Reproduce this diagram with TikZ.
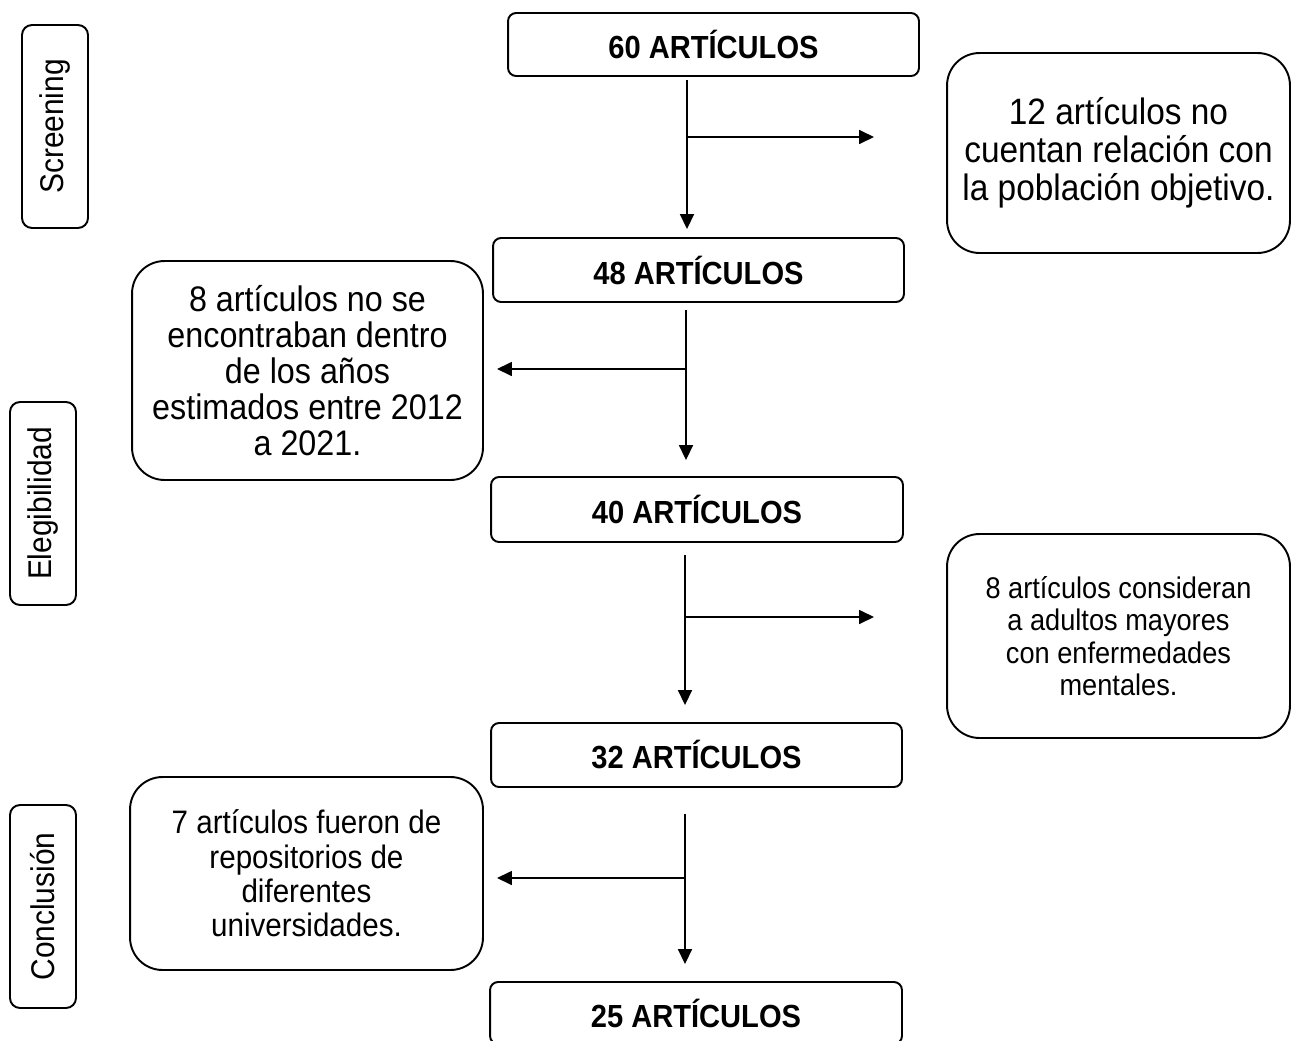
\documentclass[tikz,border=0pt]{standalone}
\usepackage{fontspec}
\setmainfont{Liberation Sans}[FakeStretch=0.91]
\usetikzlibrary{arrows.meta}

\begin{document}
\begin{tikzpicture}[x=0.02cm, y=-0.02cm,
	paso/.style={draw, line width=1.1pt, rounded corners=0.16cm, inner sep=0pt,
		minimum width=8.22cm, minimum height=1.28cm,
		font=\fontsize{18.2pt}{20pt}\selectfont\bfseries},
	nota/.style={draw, line width=1.1pt, rounded corners=0.65cm, inner sep=0pt, align=center},
	fase/.style={draw, line width=1.1pt, rounded corners=0.2cm, inner sep=0pt, rotate=90,
		minimum width=4.06cm, minimum height=1.32cm,
		font=\fontsize{18.7pt}{21pt}\selectfont},
	flujo/.style={-{Triangle[length=8.5pt,width=8pt]}, line width=0.75pt}]
		\useasboundingbox (0,0) rectangle (1292,1041);

		%fases
		\node[fase] (f1) at (55,126.5) {Screening};
		\node[fase] (f2) at (43,503.5) {Elegibilidad};
		\node[fase] (f3) at (43,906.5) {Conclusión};

		%articulos
		\node[paso, minimum height=1.26cm] (a60) at (713.5,44.5) {60 ARTÍCULOS};
		\node[paso] (a48) at (698.5,270) {48 ARTÍCULOS};
		\node[paso, minimum width=8.24cm, minimum height=1.30cm] (a40) at (697,509.5) {40 ARTÍCULOS};
		\node[paso] (a32) at (696.5,755) {32 ARTÍCULOS};
		\node[paso, minimum width=8.24cm, minimum height=1.24cm] (a25) at (696,1013) {25 ARTÍCULOS};

		%excluidos
		\node[nota, minimum width=6.86cm, minimum height=4.0cm, font=\fontsize{20.9pt}{21.6pt}\selectfont]
			(e12) at (1118.5,153) {12 artículos no\\cuentan relación con\\la población objetivo.};
		\node[nota, minimum width=7.02cm, minimum height=4.38cm, font=\fontsize{20.2pt}{20.4pt}\selectfont]
			(e8a) at (307.5,370.5) {8 artículos no se\\encontraban dentro\\de los años\\estimados entre 2012\\a 2021.};
		\node[nota, minimum width=6.86cm, minimum height=4.08cm, font=\fontsize{17pt}{18.4pt}\selectfont]
			(e8b) at (1118.5,636) {8 artículos consideran\\a adultos mayores\\con enfermedades\\mentales.};
		\node[nota, minimum width=7.06cm, minimum height=3.86cm, font=\fontsize{18.5pt}{19.5pt}\selectfont]
			(e7) at (306.5,873.5) {7 artículos fueron de\\repositorios de\\diferentes\\universidades.};

		%ramas
		\coordinate (k1) at (687,137);
		\coordinate (t1) at (874,137);
		\coordinate (k2) at (686,369);
		\coordinate (t2) at (497,369);
		\coordinate (k3) at (685,617);
		\coordinate (t3) at (874,617);
		\coordinate (k4) at (685,878);
		\coordinate (t4) at (497,878);

		\draw[flujo, shorten <=0.06cm, shorten >=0.16cm] (k1 |- a60.south) -- (k1 |- a48.north);
		\draw[flujo] (k1) -- (t1);
		\draw[flujo, shorten <=0.14cm, shorten >=0.32cm] (k2 |- a48.south) -- (k2 |- a40.north);
		\draw[flujo] (k2) -- (t2);
		\draw[flujo, shorten <=0.24cm, shorten >=0.34cm] (k3 |- a40.south) -- (k3 |- a32.north);
		\draw[flujo] (k3) -- (t3);
		\draw[flujo, shorten <=0.52cm, shorten >=0.34cm] (k4 |- a32.south) -- (k4 |- a25.north);
		\draw[flujo] (k4) -- (t4);
	\end{tikzpicture}
\end{document}
